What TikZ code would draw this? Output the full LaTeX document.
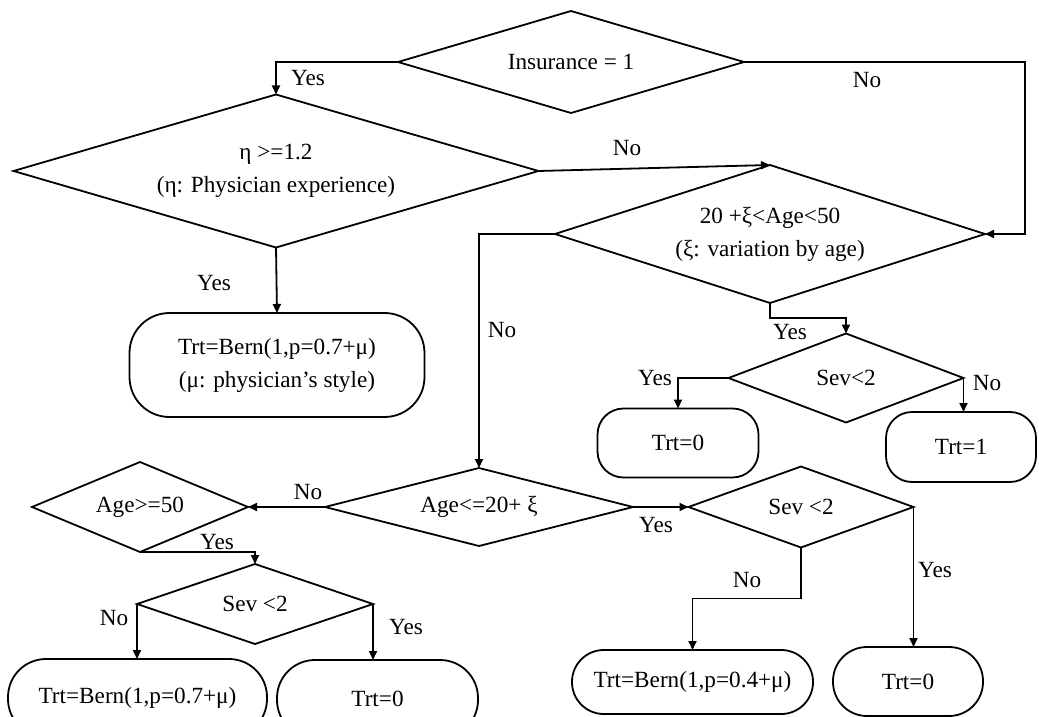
\documentclass[tikz,border=0pt]{standalone}
\usepackage{fontspec}
\setmainfont{Liberation Serif}
\usetikzlibrary{shapes.geometric,arrows.meta}
\begin{document}
\begin{tikzpicture}[x=0.5pt,y=-0.5pt,
  every node/.style={font=\fontsize{11.6}{16.5}\selectfont},
  dia/.style={draw, diamond, inner sep=0pt, outer sep=0pt, align=center},
  term/.style={draw, rectangle, inner sep=0pt, outer sep=0pt, align=center},
  lbl/.style={inner sep=1pt},
  arr/.style={-{Triangle[length=4.5pt,width=4pt]}},
  line width=0.9pt]
\useasboundingbox (0,0) rectangle (1039,717);
\clip (0,0) rectangle (1039,717);
% decisions
\node[dia, minimum width=173pt, minimum height=51pt, aspect=3.39] (ins) at (571,62) {Insurance = 1};
\node[dia, minimum width=262.5pt, minimum height=76.5pt, aspect=3.43] (eta) at (276,171) {η >=1.2\\(η: Physician experience)};
\node[dia, minimum width=215pt, minimum height=69pt, aspect=3.12] (age1) at (770,234) {20 +ξ<Age<50\\(ξ: variation by age)};
\node[dia, minimum width=117.5pt, minimum height=44.5pt, aspect=2.64] (sev1) at (846,378) {Sev<2};
\node[dia, minimum width=154pt, minimum height=39pt, aspect=3.95] (age2) at (479,507) {Age<=20+ ξ};
\node[dia, minimum width=108pt, minimum height=45pt, aspect=2.4] (age50) at (140,507) {Age>=50};
\node[dia, minimum width=118pt, minimum height=40pt, aspect=2.95] (sev2) at (255,604) {Sev <2};
\node[dia, minimum width=112.5pt, minimum height=40.5pt, aspect=2.78] (sev3) at (801,507) {Sev <2};
% terminals
\node[term, rounded corners=20pt, minimum width=147.5pt, minimum height=52pt] (trtA) at (277,365) {Trt=Bern(1,p=0.7+μ)\\ (μ: physician’s style)};
\node[term, rounded corners=13pt, minimum width=80.5pt, minimum height=34.5pt] (trt0a) at (678,443) {Trt=0};
\node[term, rounded corners=13pt, minimum width=75pt, minimum height=35pt] (trt1) at (961,447) {Trt=1};
\node[term, rounded corners=19pt, minimum width=129.5pt, minimum height=39pt] (trtB) at (137.5,698) {Trt=Bern(1,p=0.7+μ)};
\node[term, rounded corners=19pt, minimum width=100.5pt, minimum height=39pt] (trt0b) at (377.5,699) {Trt=0};
\node[term, rounded corners=15.9pt, minimum width=120.5pt, minimum height=32pt] (trtC) at (692.5,682) {Trt=Bern(1,p=0.4+μ)};
\node[term, rounded corners=17pt, minimum width=75pt, minimum height=34.5pt] (trt0c) at (908,681.5) {Trt=0};
% connectors
\coordinate (c1) at (1025,62);
\draw[arr] (ins.west) -| (eta.north);
\draw[arr] (ins.east) -- (c1) |- (age1.east);
\draw[arr] (eta.east) -- (age1.north);
\draw[arr] (age1.west) -| (age2.north);
\draw[arr] (age1.south) -- ++(0,15) -| (sev1.north);
\draw[arr] (eta.south) -- (trtA.north);
\draw[arr] (sev1.west) -| (trt0a.north);
\draw[arr] (sev1.east) -- (sev1.east |- trt1.north);
\draw[arr] (age2.west) -- (age50.east);
\draw[arr] (age2.east) -- (sev3.west);
\draw[arr] (age50.south) -| (sev2.north);
\draw[arr] (sev2.west) -- (sev2.west |- trtB.north);
\draw[arr] (sev2.east) -- (sev2.east |- trt0b.north);
\draw[arr] (sev3.south) -- ++(0,51) -| (trtC.north);
\draw[arr] (sev3.east) -- (sev3.east |- trt0c.north);
% labels
\node[lbl] (l1) at (308,78) {Yes};
\node[lbl] (l2) at (867,80) {No};
\node[lbl] (l3) at (627,148) {No};
\node[lbl] (l4) at (502,330) {No};
\node[lbl] (l5) at (790,332) {Yes};
\node[lbl] (l6) at (214,283) {Yes};
\node[lbl] (l7) at (655,378) {Yes};
\node[lbl] (l8) at (987,383) {No};
\node[lbl] (l9) at (308,492) {No};
\node[lbl] (l10) at (656,525) {Yes};
\node[lbl] (l11) at (217,542) {Yes};
\node[lbl] (l12) at (114,618) {No};
\node[lbl] (l13) at (406,627) {Yes};
\node[lbl] (l14) at (747,580) {No};
\node[lbl] (l15) at (935,570) {Yes};
\end{tikzpicture}
\end{document}
